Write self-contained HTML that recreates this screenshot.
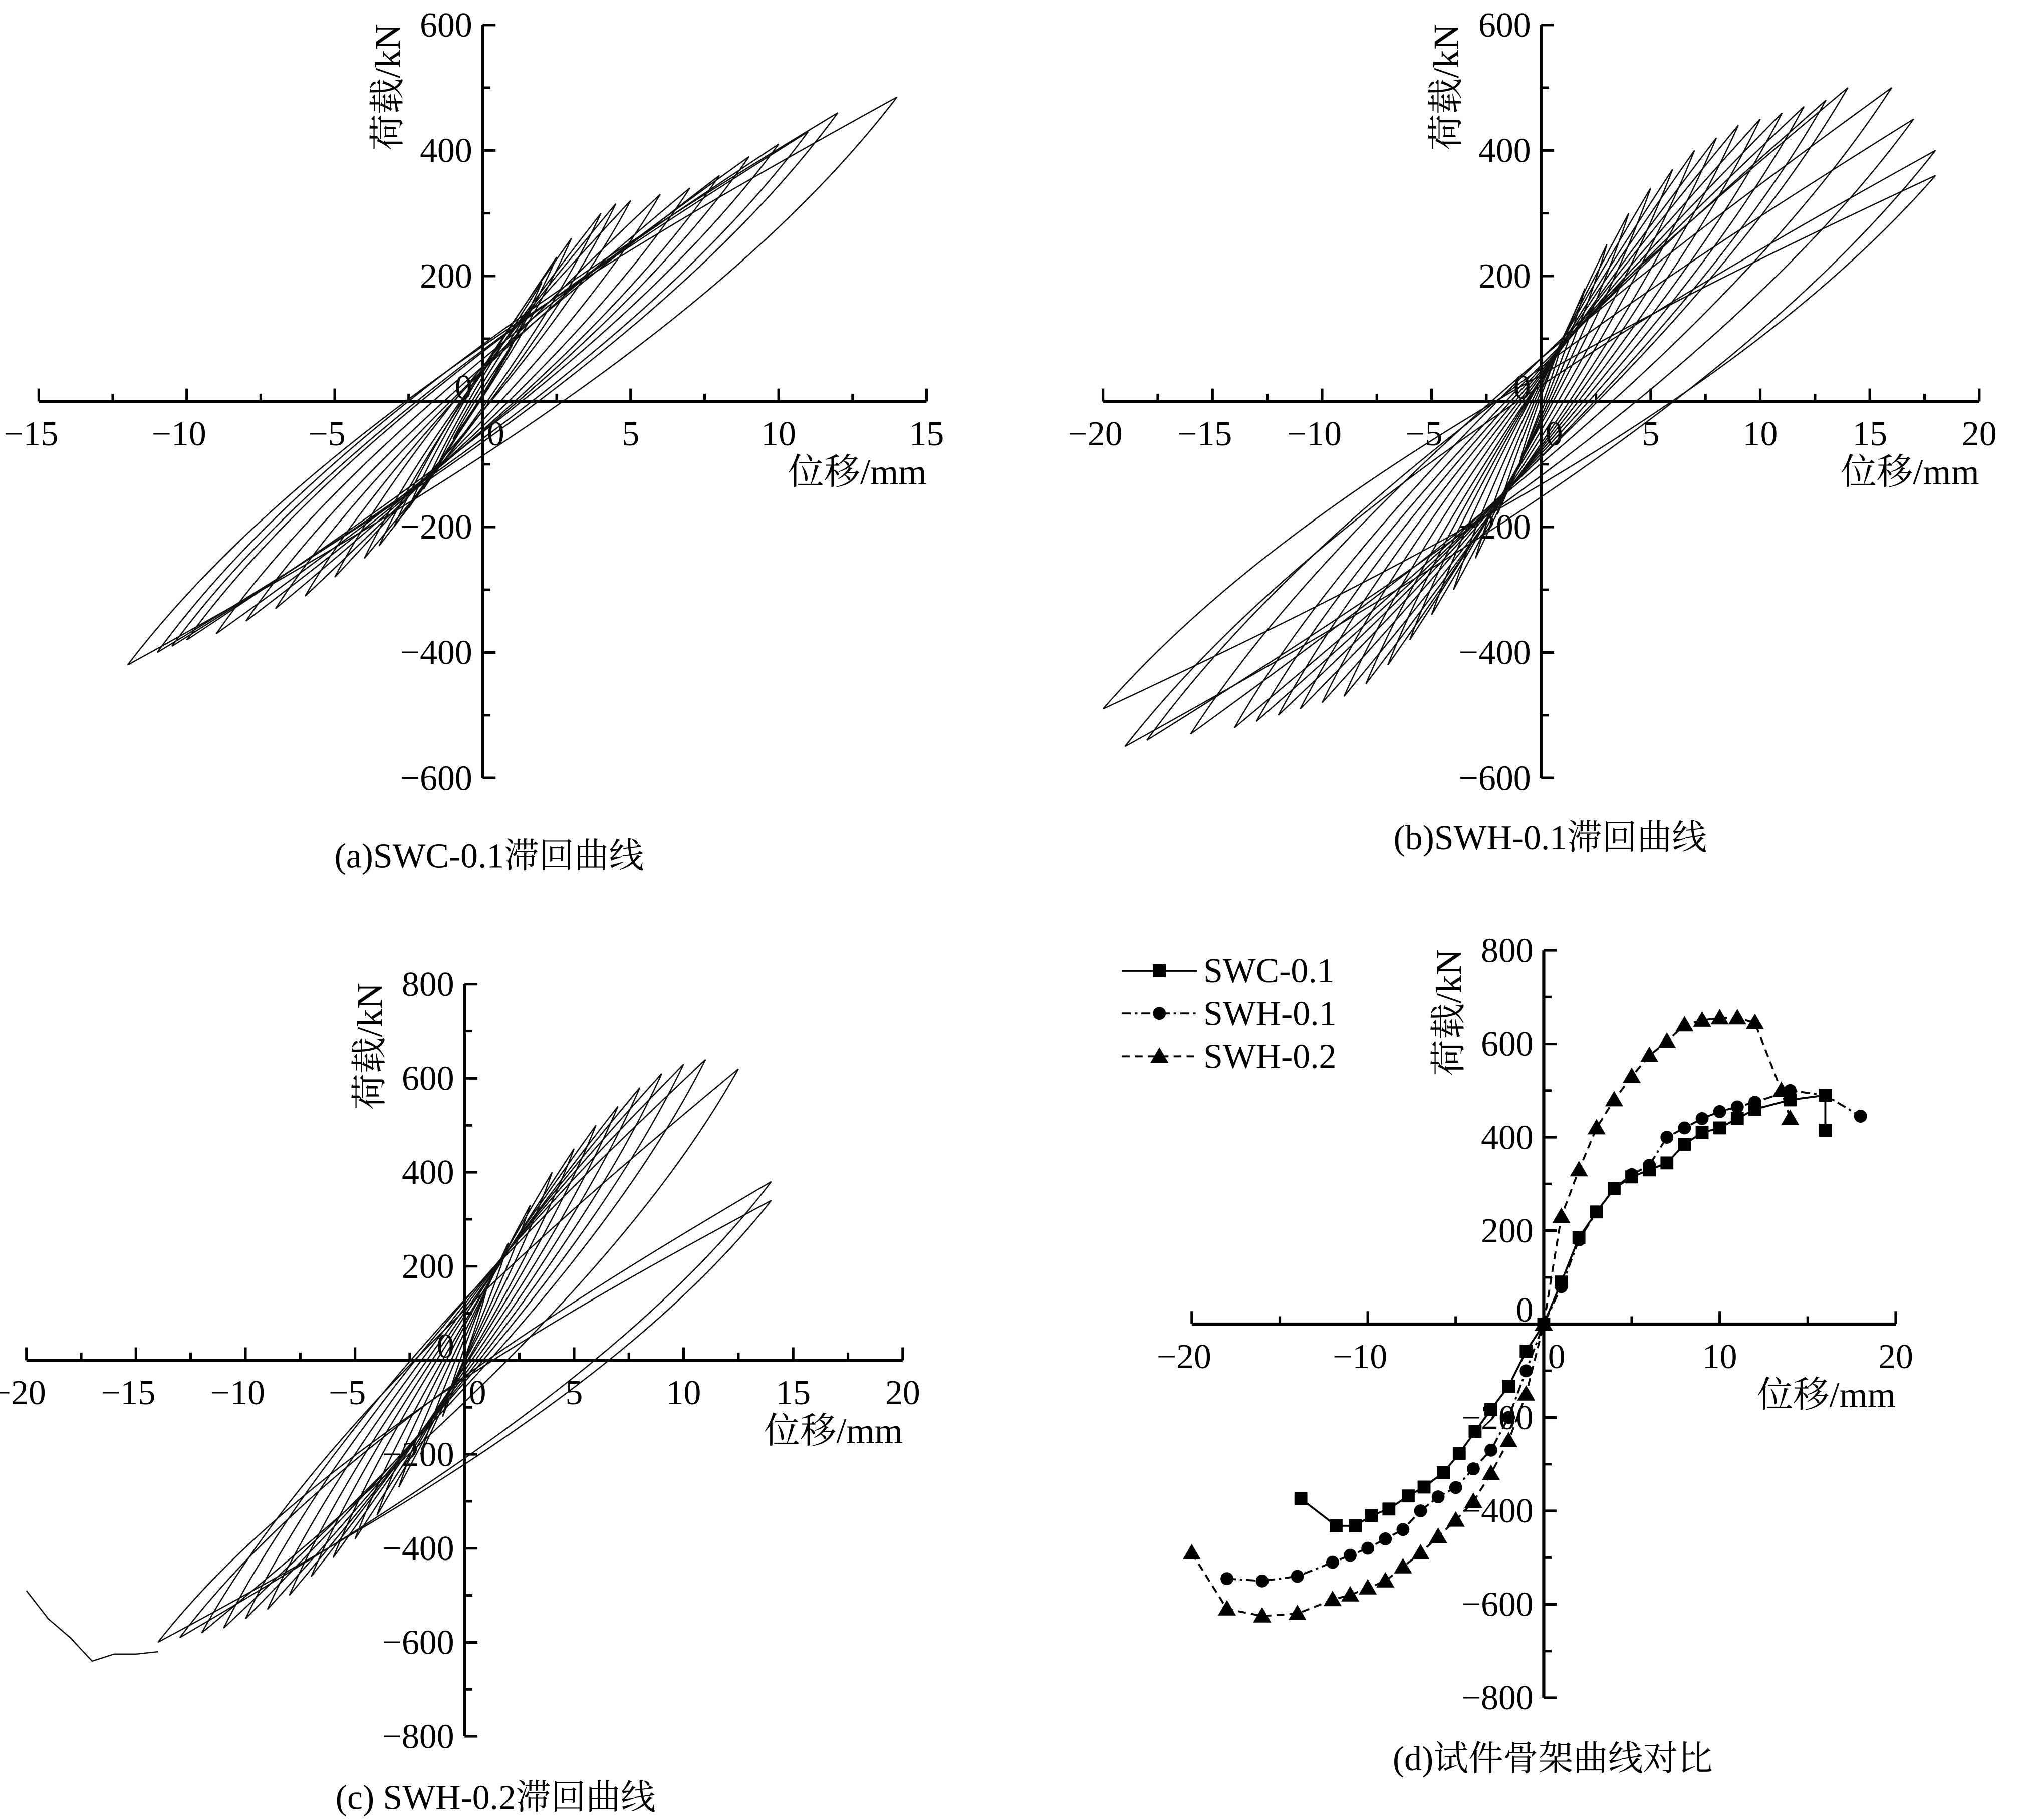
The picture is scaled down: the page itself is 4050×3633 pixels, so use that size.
<!DOCTYPE html>
<html><head><meta charset="utf-8">
<style>
html,body{margin:0;padding:0;background:#fff;}
svg{display:block;}
text{font-family:"Liberation Serif","Noto Serif CJK SC","Noto Sans CJK SC",serif;fill:#000;}
</style></head>
<body>
<svg id="fig" width="4050" height="3633" viewBox="0 0 1568 1406" xmlns="http://www.w3.org/2000/svg">
<rect width="1568" height="1406" fill="#fff"/>
</svg>
<script>
// ---- Panel (a) SWC-0.1 hysteresis peaks ----
const aPosDisp=[1,1.5,2,2.5,3,4,4.5,5,6,7,8,9,10,11,12,14];
const aPosLoad=[90,140,190,230,260,300,315,320,330,340,360,390,410,430,460,485];
const aNegDisp=[-1,-1.5,-2,-2.5,-3,-3.5,-4,-5,-6,-7,-8,-9,-10,-10.5,-11,-12];
const aNegLoad=[-60,-100,-140,-170,-200,-230,-250,-280,-310,-330,-350,-370,-380,-390,-400,-420];
// ---- Panel (b) SWH-0.1 ----
const bPosDisp=[1,2,3,4,5,6,7,8,9,10,11,12,13,14,16,17,18,18];
const bPosLoad=[100,180,250,300,340,370,400,420,440,450,460,470,480,500,500,450,400,360];
const bNegDisp=[-1,-2,-3,-4,-5,-6,-7,-8,-9,-10,-11,-12,-13,-14,-16,-18,-19,-20];
const bNegLoad=[-100,-180,-250,-300,-340,-380,-420,-450,-470,-480,-490,-500,-510,-520,-530,-540,-550,-490];
// ---- Panel (c) SWH-0.2 ----
const cPosDisp=[1,2,3,4,5,6,7,8,9,10,11,12.5,14,14];
const cPosLoad=[150,250,330,400,450,500,540,580,610,630,640,620,380,340];
const cNegDisp=[-1,-2,-3,-4,-5,-6,-7,-8,-9,-10,-11,-12,-13,-14];
const cNegLoad=[-120,-200,-270,-330,-380,-420,-460,-500,-530,-550,-570,-580,-590,-600];
const cTailDisp=[-14,-15,-16,-17,-18,-19,-20];
const cTailLoad=[-620,-625,-625,-640,-590,-550,-490];
// ---- Panel (d) skeleton curves ----
const swcDisp=[-13.8,-11.8,-10.7,-9.8,-8.8,-7.7,-6.8,-5.7,-4.8,-3.9,-3,-2,-1,0,1,2,3,4,5,6,7,8,9,10,11,12,14,16,16];
const swcLoad=[-374,-432,-432,-410,-396,-368,-349,-318,-277,-230,-183,-133,-58,0,90,185,240,290,315,330,345,385,410,420,440,460,480,490,415];
const swh1Disp=[-18,-16,-14,-12,-11,-10,-9,-8,-7,-6,-5,-4,-3,-2,-1,0,1,2,3,4,5,6,7,8,9,10,11,12,14,16,18];
const swh1Load=[-545,-550,-540,-510,-495,-480,-460,-440,-400,-370,-350,-310,-270,-200,-100,0,80,180,240,290,320,340,400,420,440,455,465,475,500,490,445];
const swh2Disp=[-20,-18,-16,-14,-12,-11,-10,-9,-8,-7,-6,-5,-4,-3,-2,-1,0,1,2,3,4,5,6,7,8,9,10,11,12,13.5,14];
const swh2Load=[-490,-610,-625,-620,-590,-580,-565,-550,-520,-490,-455,-420,-380,-320,-250,-150,0,230,330,420,480,530,575,605,640,650,655,655,645,500,440];
const legendNames=["SWC-0.1","SWH-0.1","SWH-0.2"];

const NS="http://www.w3.org/2000/svg";
const svg=document.getElementById('fig');
function mk(tag,attrs,parent){const e=document.createElementNS(NS,tag);for(const k in attrs)e.setAttribute(k,attrs[k]);(parent||svg).appendChild(e);return e;}
function txt(s,x,y,size,anchor,parent){const t=mk('text',{x:x,y:y,'font-size':size,'text-anchor':anchor||'middle'},parent);t.textContent=s;return t;}

function axes(P){
  const g=mk('g',{});
  
  
  const X=P.X,Y=P.Y;
  mk('line',{x1:X(P.xmin),x2:X(P.xmax),y1:Y(0),y2:Y(0),stroke:'#000','stroke-width':2.4},g);
  mk('line',{x1:X(0),x2:X(0),y1:Y(P.ymax),y2:Y(P.ymin),stroke:'#000','stroke-width':2.4},g);
  for(let v=P.xmin;v<=P.xmax+1e-9;v+=P.xstep/2){
    const major=Math.abs((v-P.xmin)%P.xstep)<1e-6;
    mk('line',{x1:X(v),x2:X(v),y1:Y(0),y2:Y(0)-(major?10:6),stroke:'#000','stroke-width':2},g);
    if(major){txt(v<0?'\u2212'+(-v):String(v),X(v)+(v<0?-6:0)+(v===0?10:0),Y(0)+34,27,'middle',g);}
  }
  for(let v=P.ymin;v<=P.ymax+1e-9;v+=P.ystep/2){
    const major=Math.abs((v-P.ymin)%P.ystep)<1e-6;
    mk('line',{x1:X(0),x2:X(0)+(major?10:6),y1:Y(v),y2:Y(v),stroke:'#000','stroke-width':2},g);
    if(major){txt(v<0?'\u2212'+(-v):String(v),X(0)-8,Y(v)+(v===0?-2:9),27,'end',g);}
  }
  const yt=txt('荷载/kN',0,0,28,'middle',g);
  yt.setAttribute('transform','translate('+(X(0)-64)+','+(Y(P.ymax)+48)+') rotate(-90)');
  
  
  const xt=txt('位移/mm',X(P.xmax),Y(0)+64,28,'end',g);
  
  
}

function loops(P,pd,pf,nd,nf){
  const g=mk('g',{fill:'none',stroke:'#111','stroke-width':1});
  
  
  const n=pd.length;
  for(let i=0;i<n;i++){
    const px=P.X(pd[i]),py=P.Y(pf[i]),nx=P.X(nd[i]),ny=P.Y(nf[i]);
    const dx=px-nx,dy=py-ny,L=Math.hypot(dx,dy);
    const ux=dy/L,uy=-dx/L;
    const w=L*(0.02+0.05*i/n);
    const c=(t,s)=>[nx+dx*t+ux*w*s,ny+dy*t+uy*w*s];
    const u1=c(0.3,-0.6),u2=c(0.7,-1.3),l1=c(0.7,0.6),l2=c(0.3,1.3);
    const d='M'+nx+','+ny+' C'+u1+' '+u2+' '+px+','+py+' C'+l1+' '+l2+' '+nx+','+ny;
    const p=mk('path',{d:d},g);
    
    
  }
  return g;
}

// Panel (a)
const PA={name:'panel-a',xmin:-15,xmax:15,xstep:5,ymin:-600,ymax:600,ystep:200,
  X:v=>373+v*22.87,Y:v=>310-v*0.485};
axes(PA);loops(PA,aPosDisp,aPosLoad,aNegDisp,aNegLoad);
let t=txt('(a)SWC-0.1滞回曲线',378,670,27);

// Panel (b)
const PB={name:'panel-b',xmin:-20,xmax:20,xstep:5,ymin:-600,ymax:600,ystep:200,
  X:v=>1191+v*16.93,Y:v=>310-v*0.485};
axes(PB);loops(PB,bPosDisp,bPosLoad,bNegDisp,bNegLoad);
t=txt('(b)SWH-0.1滞回曲线',1198,656,27);

// Panel (c)
const PC={name:'panel-c',xmin:-20,xmax:20,xstep:5,ymin:-800,ymax:800,ystep:200,
  X:v=>359+v*16.93,Y:v=>1051-v*0.3633};
axes(PC);loops(PC,cPosDisp,cPosLoad,cNegDisp,cNegLoad);
const tail=mk('polyline',{points:cTailDisp.map((d,i)=>PC.X(d)+','+PC.Y(cTailLoad[i])).join(' '),fill:'none',stroke:'#111','stroke-width':1});


t=txt('(c) SWH-0.2滞回曲线',383,1398,27);

// Panel (d)
const PD={name:'panel-d',xmin:-20,xmax:20,xstep:10,ymin:-800,ymax:800,ystep:200,
  X:v=>1193+v*13.6,Y:v=>1023-v*0.361};
axes(PD);
function marker(type,x,y,g){
  if(type==='sq')return mk('rect',{x:x-5,y:y-5,width:10,height:10,fill:'#000'},g);
  if(type==='ci')return mk('circle',{cx:x,cy:y,r:5,fill:'#000'},g);
  return mk('polygon',{points:(x)+','+(y-7)+' '+(x-7)+','+(y+5)+' '+(x+7)+','+(y+5),fill:'#000'},g);
}
const series=[[swcDisp,swcLoad,'sq','none','swc-0.1'],[swh1Disp,swh1Load,'ci','7,3,2,3','swh-0.1'],[swh2Disp,swh2Load,'tr','6,4','swh-0.2']];
series.forEach((s,k)=>{
  const g=mk('g',{});
  
  
  mk('polyline',{points:s[0].map((d,i)=>PD.X(d)+','+PD.Y(s[1][i])).join(' '),fill:'none',stroke:'#000','stroke-width':1.5,'stroke-dasharray':s[3]},g);
  s[0].forEach((d,i)=>{const m=marker(s[2],PD.X(d),PD.Y(s[1][i]),g);
    
    });
  const lg=mk('g',{});
  
  
  const ly=750+k*33;
  mk('line',{x1:867,x2:925,y1:ly,y2:ly,stroke:'#000','stroke-width':1.5,'stroke-dasharray':s[3]},lg);
  marker(s[2],896,ly,lg);
  txt(legendNames[k],930,ly+9,27,'start',lg);
});
t=txt('(d)试件骨架曲线对比',1200,1368,27);
</script>
</body></html>
